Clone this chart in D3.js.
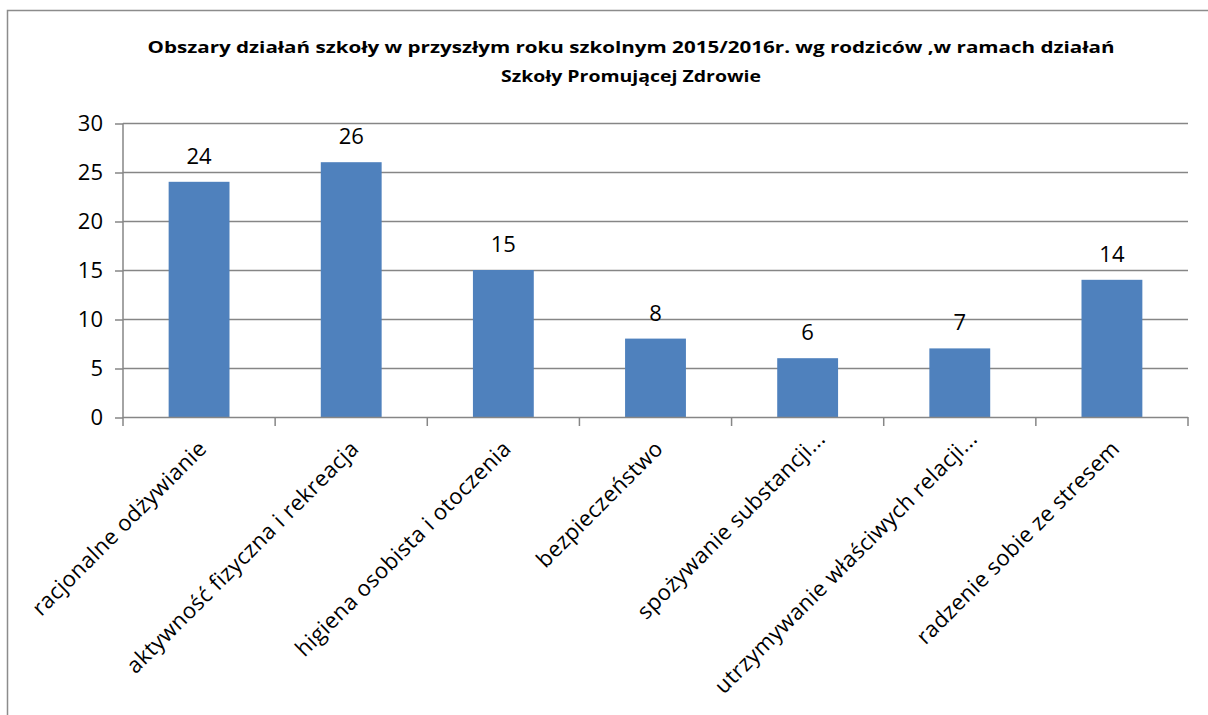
<html>
<head>
  <meta charset="utf-8">
  <script src="https://cdn.jsdelivr.net/npm/d3@7"></script>
  <style>
    body { margin: 0; background: #fff; }
    text { font-family: "Open Sans", "Liberation Sans", sans-serif; fill: #000; }
  </style>
</head>
<body>
  <script>
    // data
    var categories = ["racjonalne odżywianie", "aktywność fizyczna i rekreacja", "higiena osobista i otoczenia",
      "bezpieczeństwo", "spożywanie substancji...", "utrzymywanie właściwych relacji...", "radzenie sobie ze stresem"];
    var values = [24, 26, 15, 8, 6, 7, 14];
    var yTicks = [0, 5, 10, 15, 20, 25, 30];
    var titleLines = ["Obszary działań szkoły w przyszłym roku szkolnym 2015/2016r. wg rodziców ,w ramach działań",
      "Szkoły Promującej Zdrowie"];

    var w = 1208, h = 715;
    var svg = d3.select("body").append("svg").attr("width", w).attr("height", h);

    // outer chart border (runs off the right and bottom)
    svg.append("rect").attr("x", 7.5).attr("y", 10.5).attr("width", w + 20).attr("height", h + 20)
      .attr("fill", "none").attr("stroke", "#8c8c8c").attr("stroke-width", 1.5);

    var pLeft = 123, pRight = 1188, pTop = 123, pBottom = 417;

    var x = d3.scaleBand().domain(categories).range([pLeft, pRight]).paddingInner(0.6).paddingOuter(0.3);
    var y = d3.scaleLinear().domain([0, 30]).range([pBottom, pTop]);

    // title
    svg.append("g").selectAll("text").data(titleLines).enter().append("text")
      .attr("x", 631).attr("y", function(d, i) { return 53 + i * 29; })
      .attr("text-anchor", "middle").attr("font-weight", "bold").attr("font-size", 16.5)
      .attr("textLength", function(d, i) { return i == 0 ? 967 : 260; })
      .attr("lengthAdjust", "spacingAndGlyphs")
      .text(function(d) { return d; });

    // gridlines
    svg.append("g").selectAll("line").data(yTicks.slice(1)).enter().append("line")
      .attr("x1", pLeft).attr("x2", pRight)
      .attr("y1", function(d) { return y(d) + 0.5; }).attr("y2", function(d) { return y(d) + 0.5; })
      .attr("stroke", "#868686").attr("stroke-width", 1.5);

    // y axis
    var yAxis = svg.append("g").attr("transform", "translate(" + pLeft + ",0.5)")
      .call(d3.axisLeft(y).tickValues(yTicks).tickSize(8).tickPadding(12));
    yAxis.selectAll("line, path").attr("stroke", "#868686").attr("stroke-width", 1.5);
    yAxis.select(".domain").attr("d", "M0," + pTop + "V" + pBottom);
    yAxis.selectAll("text").attr("font-size", 22).attr("font-family", "'Open Sans', sans-serif");

    // bars
    svg.append("g").selectAll("rect").data(values).enter().append("rect")
      .attr("x", function(d, i) { return x(categories[i]); })
      .attr("y", function(d) { return y(d); })
      .attr("width", x.bandwidth())
      .attr("height", function(d) { return pBottom - y(d); })
      .attr("fill", "#4f81bd");

    // value labels
    svg.append("g").selectAll("text").data(values).enter().append("text")
      .attr("x", function(d, i) { return x(categories[i]) + x.bandwidth() / 2; })
      .attr("y", function(d) { return y(d) - 18; })
      .attr("text-anchor", "middle").attr("font-size", 22)
      .text(function(d) { return d; });

    // x axis with ticks between categories
    var step = (pRight - pLeft) / categories.length;
    var xAxis = svg.append("g");
    xAxis.append("line").attr("x1", pLeft).attr("x2", pRight).attr("y1", pBottom + 0.5).attr("y2", pBottom + 0.5)
      .attr("stroke", "#868686").attr("stroke-width", 1.5);
    xAxis.selectAll(".tk").data(d3.range(categories.length + 1)).enter().append("line")
      .attr("x1", function(i) { return pLeft + i * step; }).attr("x2", function(i) { return pLeft + i * step; })
      .attr("y1", pBottom).attr("y2", pBottom + 9)
      .attr("stroke", "#868686").attr("stroke-width", 1.5);

    // truncated labels sit a bit further along, like in the original
    xAxis.selectAll("text").data(categories).enter().append("text")
      .attr("transform", function(d) { return "translate(" + (x(d) + x.bandwidth() / 2 + 9) + "," + (pBottom + 33) + ") rotate(-45)"; })
      .attr("dx", function(d) { return d.slice(-3) == "..." ? 14 : 0; })
      .attr("text-anchor", "end").attr("font-size", 22).attr("letter-spacing", 0.4)
      .text(function(d) { return d; });
  </script>
</body>
</html>
